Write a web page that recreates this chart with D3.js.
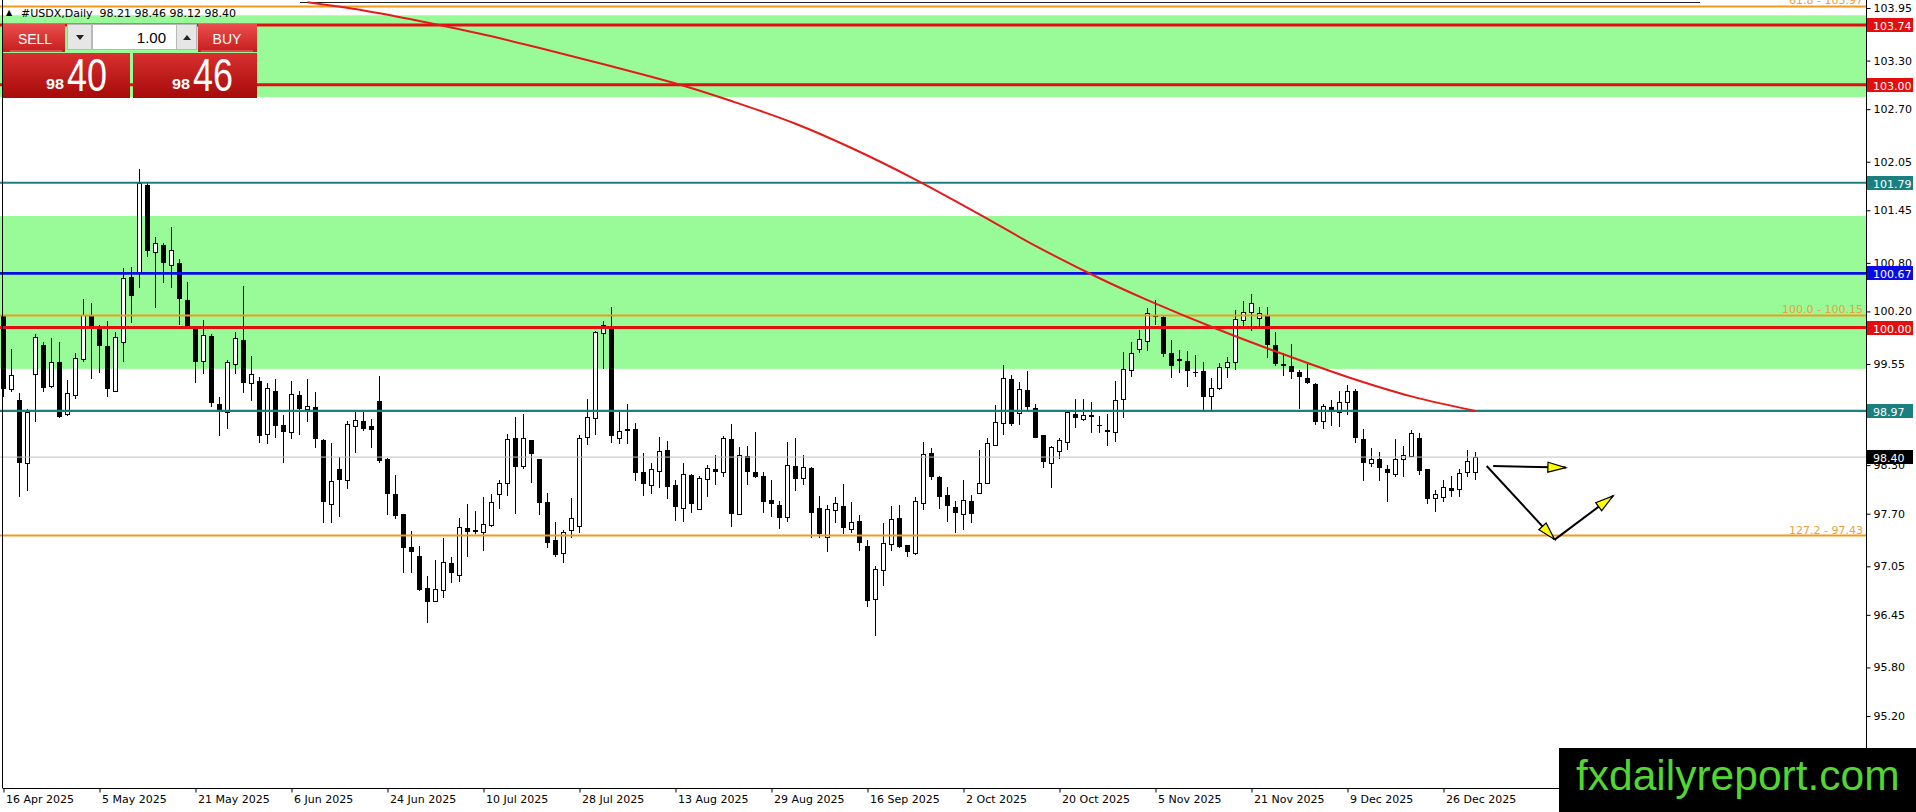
<!DOCTYPE html>
<html>
<head>
<meta charset="utf-8">
<script src="https://cdn.jsdelivr.net/npm/d3@7"></script>
<style>
html, body { margin: 0; padding: 0; background: #fff; overflow: hidden; }
svg { display: block; }
</style>
</head>
<body>
<div class="visContainer"></div>
<script>
// daily bars, 16 Apr 2025 .. 2 Jan 2026
const dateBars = [0, 12, 24, 36, 48, 60, 72, 84, 96, 108, 120, 132, 144, 156, 168, 180];
const dateLabels = ['16 Apr 2025', '5 May 2025', '21 May 2025', '6 Jun 2025', '24 Jun 2025', '10 Jul 2025',
    '28 Jul 2025', '13 Aug 2025', '29 Aug 2025', '16 Sep 2025', '2 Oct 2025', '20 Oct 2025',
    '5 Nov 2025', '21 Nov 2025', '9 Dec 2025', '26 Dec 2025'];

const opens = [100.14,99.24,99.11,98.33,99.43,99.79,99.28,99.58,98.93,99.17,99.61,100.16,100.01,99.77,99.22,99.82,100.63,100.69,101.76,100.94,
    101.02,100.77,100.80,100.34,100.00,99.59,99.90,99.06,98.96,99.55,99.85,99.32,99.34,98.69,99.22,98.80,98.71,99.17,98.99,99.02,
    98.61,97.82,98.25,98.12,98.78,98.85,98.78,99.09,98.38,97.94,97.70,97.29,97.18,96.78,96.62,96.76,97.09,96.94,97.52,97.50,
    97.47,97.56,97.94,98.08,98.64,98.29,98.61,98.38,97.85,97.38,97.21,97.50,97.55,98.65,98.88,99.93,100.01,98.64,98.75,98.75,
    98.22,98.06,98.23,98.49,98.06,97.77,98.18,97.76,98.13,98.25,98.22,98.62,97.70,98.41,98.22,98.17,97.87,97.81,97.66,98.29,
    98.14,98.27,97.77,97.41,97.75,97.80,97.51,97.61,97.30,96.65,97.00,97.33,97.65,97.31,97.22,97.83,98.45,98.15,97.93,97.78,
    97.70,97.86,97.96,98.08,98.55,98.82,99.37,98.95,99.23,99.01,98.67,98.33,98.48,98.59,98.93,98.87,98.92,98.80,98.73,98.71,
    99.12,99.48,99.74,99.83,100.14,100.13,99.69,99.61,99.59,99.45,99.46,99.16,99.25,99.51,99.58,100.09,100.19,100.12,100.16,99.79,
    99.55,99.53,99.45,99.38,99.30,98.85,99.02,98.96,99.08,99.22,98.62,98.33,98.38,98.25,98.19,98.38,98.41,98.64,98.25,97.89,
    97.91,98.02,98.01,98.22,98.21];
const highs = [100.16,99.74,99.19,99.00,99.92,99.82,99.87,99.82,99.35,99.69,100.35,100.31,100.03,100.08,99.95,100.74,100.75,101.96,101.79,101.12,
    101.05,101.24,100.85,100.56,100.02,100.09,99.92,99.14,99.60,99.95,100.52,99.65,99.39,99.32,99.37,98.92,99.34,99.22,99.37,99.20,
    98.62,98.57,98.40,98.85,98.97,98.98,98.87,99.40,98.39,98.18,97.70,97.49,97.30,96.93,97.13,97.40,97.17,97.65,97.82,97.73,
    97.91,97.94,98.12,98.69,98.90,98.93,98.61,98.38,97.96,97.60,97.50,97.89,98.67,99.12,99.96,100.08,100.26,98.96,99.06,98.82,
    98.45,98.33,98.65,98.60,98.12,98.33,98.19,98.17,98.30,98.43,98.66,98.81,98.52,98.54,98.71,98.22,98.12,97.86,98.59,98.64,
    98.43,98.28,97.92,97.81,97.91,98.07,97.85,97.68,97.38,97.05,97.59,97.80,97.81,97.31,97.91,98.59,98.51,98.17,98.03,97.86,
    98.12,97.93,98.49,98.64,99.04,99.54,99.42,99.33,99.46,99.06,98.67,98.54,98.64,98.97,99.12,99.12,99.08,98.91,98.93,99.34,
    99.70,99.82,99.97,100.24,100.34,100.14,99.85,99.72,99.71,99.66,99.58,99.38,99.56,99.64,100.22,100.33,100.42,100.26,100.25,99.95,
    99.69,99.80,99.48,99.55,99.32,99.06,99.11,99.22,99.29,99.24,98.75,98.51,98.46,98.30,98.62,98.54,98.74,98.70,98.25,97.99,
    98.12,98.17,98.25,98.49,98.46];
const lows = [99.14,99.20,97.91,97.98,98.83,99.20,99.25,98.88,98.91,99.12,99.58,99.37,99.44,99.14,99.22,99.58,100.06,100.49,100.87,100.24,
    100.55,100.49,100.03,100.01,99.32,99.43,99.02,98.66,98.75,99.43,99.19,99.09,98.57,98.56,98.64,98.33,98.62,98.67,98.83,98.51,
    97.59,97.59,97.66,98.01,98.45,98.72,98.51,98.33,97.68,97.64,96.97,96.97,96.75,96.35,96.61,96.66,96.84,96.86,97.17,97.45,
    97.24,97.54,97.76,97.92,97.70,98.25,98.08,97.68,97.28,97.17,97.09,97.40,97.46,98.55,98.67,99.49,98.57,98.56,98.56,98.10,
    97.92,97.94,98.02,97.88,97.61,97.60,97.71,97.75,97.91,98.06,98.15,97.54,97.70,98.06,98.14,97.71,97.66,97.51,97.60,97.98,
    98.06,97.40,97.40,97.23,97.59,97.45,97.46,97.24,96.55,96.19,96.81,97.24,97.28,97.17,97.19,97.75,98.12,97.76,97.60,97.46,
    97.50,97.59,97.96,98.07,98.54,98.67,98.78,98.80,98.97,98.64,98.27,98.02,98.38,98.49,98.76,98.85,98.70,98.70,98.54,98.59,
    98.88,99.39,99.69,99.71,100.03,99.64,99.38,99.44,99.27,99.39,98.96,98.96,99.23,99.38,99.48,100.02,99.96,100.01,99.62,99.53,
    99.40,99.37,98.99,99.30,98.80,98.75,98.78,98.77,98.92,98.57,98.10,98.28,98.10,97.85,98.15,98.15,98.40,98.18,97.82,97.72,
    97.85,97.91,97.91,98.15,98.12];
const closes = [99.24,99.41,98.33,98.96,99.88,99.25,99.58,98.90,99.19,99.63,100.16,100.01,99.77,99.24,99.88,100.61,100.39,101.79,100.95,101.05,
    100.80,100.96,100.35,100.02,99.58,99.91,99.07,98.97,99.58,99.87,99.32,99.43,98.66,99.25,98.78,98.71,99.18,98.99,99.03,98.62,
    97.85,98.10,98.12,98.81,98.86,98.75,98.74,98.35,97.94,97.67,97.28,97.23,96.76,96.61,96.77,97.10,96.97,97.54,97.47,97.47,
    97.57,97.85,98.08,98.62,98.28,98.64,98.44,97.83,97.34,97.19,97.47,97.65,98.64,98.90,99.95,100.03,98.66,98.72,98.75,98.20,
    98.07,98.25,98.48,98.03,97.78,98.19,97.82,98.14,98.27,98.22,98.64,97.70,98.43,98.22,98.15,97.85,97.82,97.65,98.30,98.13,
    98.28,97.71,97.45,97.76,97.83,97.52,97.60,97.34,96.62,97.02,97.34,97.63,97.29,97.23,97.86,98.44,98.15,97.91,97.80,97.71,
    97.87,97.70,98.08,98.57,98.83,99.38,98.81,99.24,99.02,98.64,98.34,98.52,98.61,98.96,98.88,98.92,98.90,98.79,98.71,99.11,
    99.49,99.69,99.86,100.18,100.15,99.67,99.53,99.61,99.46,99.44,99.14,99.25,99.51,99.58,100.11,100.19,100.31,100.18,99.79,99.55,
    99.53,99.45,99.39,99.32,98.83,99.03,98.97,99.08,99.22,98.64,98.33,98.38,98.27,98.20,98.38,98.43,98.70,98.23,97.88,97.94,
    98.03,97.98,98.20,98.35,98.40];

// moving average read at these bars
const maBars = [38, 45, 52, 61, 68, 76, 85, 91, 99, 106, 114, 122, 129, 137, 143, 152, 160, 168, 176, 184];
const maValues = [104.02, 103.92, 103.79, 103.60, 103.43, 103.23, 102.99, 102.80, 102.52, 102.22,
    101.83, 101.40, 101.01, 100.61, 100.34, 99.97, 99.67, 99.39, 99.15, 98.97];

const priceTicks = [103.95, 103.30, 102.70, 102.05, 101.45, 100.80, 100.20, 99.55, 98.95, 98.30, 97.70, 97.05, 96.45, 95.80, 95.20];

const zoneTops = [103.86, 101.38];
const zoneBottoms = [102.85, 99.49];
const redLevels = [103.74, 103.00, 100.00];
const tealLevels = [101.79, 98.97];
const blueLevels = [100.67];
const fibNames = ['61.8', '100.0', '127.2'];
const fibPrices = [103.97, 100.15, 97.43];
const lastPrice = 98.40;
const header = { symbol: '#USDX,Daily', o: 98.21, h: 98.46, l: 98.12, c: 98.40 };
const bid = '98.40', ask = '98.46', lots = '1.00';

// arrows: bar index / price
const arrowFromBar = [186.2, 185.4, 193.9];
const arrowFromPrice = [98.29, 98.29, 97.38];
const arrowToBar = [195.3, 193.9, 201.2];
const arrowToPrice = [98.27, 97.38, 97.92];

const width = 1916;
const height = 812;
const plotRight = 1866;
const plotBottom = 788;

const xScale = d3.scaleLinear().domain([0, 233]).range([3.5, 3.5 + 233 * 8]);
const yScale = d3.scaleLinear().domain([103.95, 95.20]).range([8, 716]);

const svg = d3.select('.visContainer')
    .append('svg')
    .attr('width', width)
    .attr('height', height)
    .style('font-family', '"DejaVu Sans", sans-serif');

const defs = svg.append('defs');
defs.append('clipPath').attr('id', 'plot')
    .append('rect').attr('x', 0).attr('y', 0).attr('width', plotRight).attr('height', plotBottom);

const grad = (id, top, bottom) => {
    const g = defs.append('linearGradient').attr('id', id).attr('x1', 0).attr('y1', 0).attr('x2', 0).attr('y2', 1);
    g.append('stop').attr('offset', '0%').attr('stop-color', top);
    g.append('stop').attr('offset', '100%').attr('stop-color', bottom);
};
grad('btn', '#ea4e4e', '#c71d1d');
grad('pricebox', '#d93030', '#a60a0a');

const plot = svg.append('g').attr('clip-path', 'url(#plot)');

// zones
plot.selectAll('rect.zone')
    .data(zoneTops)
    .enter()
    .append('rect')
    .attr('class', 'zone')
    .attr('x', 0)
    .attr('width', plotRight)
    .attr('y', (d) => yScale(d))
    .attr('height', (d, i) => yScale(zoneBottoms[i]) - yScale(d))
    .attr('fill', '#98fb98');

plot.append('line')
    .attr('x1', 300).attr('x2', 1700).attr('y1', 2.5).attr('y2', 2.5)
    .attr('stroke', '#222').attr('stroke-width', 1);

// candles
const bars = opens.map((o, i) => ({ i: i, o: o, h: highs[i], l: lows[i], c: closes[i] }));
const candle = plot.selectAll('g.bar')
    .data(bars)
    .enter()
    .append('g')
    .attr('class', 'bar');

candle.append('line')
    .attr('x1', (d) => xScale(d.i))
    .attr('x2', (d) => xScale(d.i))
    .attr('y1', (d) => Math.round(yScale(d.h)))
    .attr('y2', (d) => Math.round(yScale(d.l)))
    .attr('stroke', '#000')
    .attr('stroke-width', 1);

candle.append('rect')
    .attr('x', (d) => d.c >= d.o ? xScale(d.i) - 2 : xScale(d.i) - 2.5)
    .attr('width', (d) => d.c >= d.o ? 4 : 5)
    .attr('y', (d) => Math.round(yScale(Math.max(d.o, d.c))) + (d.c >= d.o ? 0.5 : 0))
    .attr('height', (d) => Math.max(1, Math.round(yScale(Math.min(d.o, d.c))) - Math.round(yScale(Math.max(d.o, d.c)))))
    .attr('fill', (d) => d.c >= d.o ? '#fff' : '#000')
    .attr('stroke', (d) => d.c >= d.o ? '#000' : 'none')
    .attr('stroke-width', 1);

// horizontal levels
const hline = (prices, color, w) => {
    plot.selectAll(null)
        .data(prices)
        .enter()
        .append('line')
        .attr('x1', 0)
        .attr('x2', plotRight)
        .attr('y1', (d) => yScale(d))
        .attr('y2', (d) => yScale(d))
        .attr('stroke', color)
        .attr('stroke-width', w);
};
hline([lastPrice], '#c0c0c0', 1);
hline(fibPrices, '#f39a1c', 2);
hline(tealLevels, '#1b7f7f', 2.2);
hline(blueLevels, '#0a0ae6', 2.6);
hline(redLevels, '#e50e0e', 3);

// moving average
const ma = maBars.map((b, i) => [b, maValues[i]]);
plot.append('path')
    .datum(ma)
    .attr('fill', 'none')
    .attr('stroke', '#e31b1b')
    .attr('stroke-width', 2)
    .attr('d', d3.line().x((d) => xScale(d[0])).y((d) => yScale(d[1])).curve(d3.curveCatmullRom.alpha(0.5)));

// fib labels
plot.selectAll('text.fib')
    .data(fibPrices)
    .enter()
    .append('text')
    .attr('class', 'fib')
    .attr('x', plotRight - 3)
    .attr('y', (d) => yScale(d) - 2)
    .attr('text-anchor', 'end')
    .attr('font-size', 11)
    .attr('fill', '#e8a13c')
    .text((d, i) => fibNames[i] + ' - ' + d.toFixed(2));

// frame
svg.append('line').attr('x1', plotRight + 0.5).attr('x2', plotRight + 0.5).attr('y1', 0).attr('y2', plotBottom)
    .attr('stroke', '#000');
svg.append('line').attr('x1', 2.5).attr('x2', plotRight).attr('y1', plotBottom + 0.5).attr('y2', plotBottom + 0.5)
    .attr('stroke', '#000');
svg.append('line').attr('x1', 2.5).attr('x2', 2.5).attr('y1', 0).attr('y2', plotBottom)
    .attr('stroke', '#000');

// price axis
const yAxis = d3.axisRight(yScale).tickValues(priceTicks).tickFormat(d3.format('.2f')).tickSize(4).tickSizeOuter(0).tickPadding(3);
const yg = svg.append('g')
    .attr('transform', 'translate(' + (plotRight + 0.5) + ', 0)')
    .call(yAxis);
yg.select('.domain').remove();
yg.selectAll('text').attr('font-size', 11).attr('font-family', '"DejaVu Sans", sans-serif').attr('fill', '#000');

// time axis
const xAxis = d3.axisBottom(xScale).tickValues(dateBars).tickFormat((d, i) => dateLabels[i]).tickSize(4).tickSizeOuter(0);
const xg = svg.append('g')
    .attr('transform', 'translate(0, ' + (plotBottom + 0.5) + ')')
    .call(xAxis);
xg.select('.domain').remove();
xg.selectAll('text')
    .attr('text-anchor', 'start')
    .attr('dx', 2)
    .attr('font-size', 11)
    .attr('font-family', '"DejaVu Sans", sans-serif')
    .attr('fill', '#000');

// price boxes on the axis
const boxes = [];
redLevels.forEach((p) => boxes.push([p, '#e50e0e']));
tealLevels.forEach((p) => boxes.push([p, '#1b7f7f']));
blueLevels.forEach((p) => boxes.push([p, '#0a0ae6']));
boxes.push([lastPrice, '#000']);
const bx = svg.selectAll('g.pbox')
    .data(boxes)
    .enter()
    .append('g')
    .attr('class', 'pbox')
    .attr('transform', (d) => 'translate(' + (plotRight + 1) + ',' + Math.round(yScale(d[0])) + ')');
bx.append('rect').attr('x', 0).attr('y', -7).attr('width', 46).attr('height', 14).attr('fill', (d) => d[1]);
bx.append('text').attr('x', 6).attr('y', 4.5).attr('font-size', 11).attr('fill', '#fff').text((d) => d[0].toFixed(2));

// arrows
const arrows = arrowFromBar.map((b, i) => ({
    x1: xScale(b), y1: yScale(arrowFromPrice[i]), x2: xScale(arrowToBar[i]), y2: yScale(arrowToPrice[i])
}));
const ag = plot.selectAll('g.arrow')
    .data(arrows)
    .enter()
    .append('g')
    .attr('class', 'arrow');
ag.append('line')
    .attr('x1', (d) => d.x1).attr('y1', (d) => d.y1)
    .attr('x2', (d) => d.x2).attr('y2', (d) => d.y2)
    .attr('stroke', '#000').attr('stroke-width', 2);
ag.append('path')
    .attr('d', (d) => {
        const a = Math.atan2(d.y2 - d.y1, d.x2 - d.x1);
        const len = 18, hw = 5;
        const bx0 = d.x2 - len * Math.cos(a), by0 = d.y2 - len * Math.sin(a);
        const px = -Math.sin(a) * hw, py = Math.cos(a) * hw;
        return 'M' + d.x2 + ',' + d.y2 + 'L' + (bx0 + px) + ',' + (by0 + py) + 'L' + (bx0 - px) + ',' + (by0 - py) + 'Z';
    })
    .attr('fill', '#ffff00')
    .attr('stroke', '#000')
    .attr('stroke-width', 1.2);

// header
svg.append('text').attr('x', 6).attr('y', 15).attr('font-size', 8).text('▲');
svg.append('text')
    .attr('x', 21).attr('y', 16.5)
    .attr('font-size', 11)
    .attr('xml:space', 'preserve')
    .text(header.symbol + '  ' + [header.o, header.h, header.l, header.c].map((v) => v.toFixed(2)).join(' '));

// one-click trading panel
const panel = svg.append('g').style('font-family', '"Liberation Sans", Arial, sans-serif');
panel.append('rect').attr('x', 3).attr('y', 24).attr('width', 62).attr('height', 28).attr('fill', 'url(#btn)');
panel.append('rect').attr('x', 198).attr('y', 24).attr('width', 59).attr('height', 28).attr('fill', 'url(#btn)');
panel.append('line').attr('x1', 10).attr('x2', 62).attr('y1', 51).attr('y2', 51).attr('stroke', '#f07a7a');
panel.append('line').attr('x1', 201).attr('x2', 253).attr('y1', 51).attr('y2', 51).attr('stroke', '#f07a7a');
panel.append('text').attr('x', 35).attr('y', 44).attr('text-anchor', 'middle').attr('font-size', 14).attr('fill', '#fff').text('SELL');
panel.append('text').attr('x', 227).attr('y', 44).attr('text-anchor', 'middle').attr('font-size', 14).attr('fill', '#fff').text('BUY');
panel.append('rect').attr('x', 67.5).attr('y', 24.5).attr('width', 24).attr('height', 25).attr('fill', '#e6e6e6').attr('stroke', '#b8b8b8');
panel.append('rect').attr('x', 92.5).attr('y', 24.5).attr('width', 84).attr('height', 25).attr('fill', '#fff').attr('stroke', '#b8b8b8');
panel.append('rect').attr('x', 176.5).attr('y', 24.5).attr('width', 20).attr('height', 25).attr('fill', '#e6e6e6').attr('stroke', '#b8b8b8');
panel.append('path').attr('d', 'M76,35 L84,35 L80,40 Z').attr('fill', '#222');
panel.append('path').attr('d', 'M183,40 L191,40 L187,35 Z').attr('fill', '#222');
panel.append('text').attr('x', 166).attr('y', 43).attr('text-anchor', 'end').attr('font-size', 15).attr('fill', '#000').text(lots);
panel.append('rect').attr('x', 3).attr('y', 53).attr('width', 127).attr('height', 45).attr('fill', 'url(#pricebox)');
panel.append('rect').attr('x', 133).attr('y', 53).attr('width', 124).attr('height', 45).attr('fill', 'url(#pricebox)');
const priceText = (x, s) => {
    panel.append('text').attr('x', x).attr('y', 89).attr('font-size', 15).attr('font-weight', 'bold')
        .attr('fill', '#fff').attr('textLength', 18).attr('lengthAdjust', 'spacingAndGlyphs').text(s.slice(0, 2));
    panel.append('text').attr('x', x + 21).attr('y', 91).attr('font-size', 46)
        .attr('fill', '#fff').attr('textLength', 40).attr('lengthAdjust', 'spacingAndGlyphs').text(s.slice(3));
};
priceText(46, bid);
priceText(172, ask);

// watermark
svg.append('rect').attr('x', 1559).attr('y', 748).attr('width', 357).attr('height', 64).attr('fill', '#000');
svg.append('text')
    .attr('x', 1576).attr('y', 790)
    .attr('font-family', '"Liberation Sans", Arial, sans-serif')
    .attr('font-size', 42.5)
    .attr('fill', '#52d630')
    .text('fxdailyreport.com');
</script>
</body>
</html>
